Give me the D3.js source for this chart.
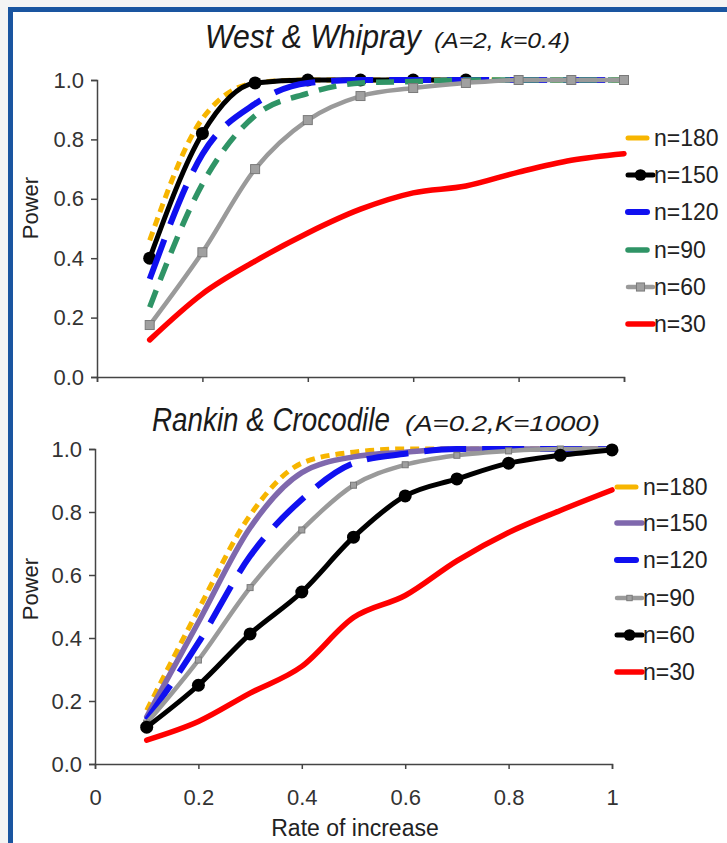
<!DOCTYPE html>
<html>
<head>
<meta charset="utf-8">
<script src="https://cdn.jsdelivr.net/npm/d3@7"></script>
<style>
  html, body { margin: 0; padding: 0; background: #f4f4f4; }
  svg { display: block; }
  text { font-family: "Liberation Sans", Arial, sans-serif; }
</style>
</head>
<body>
<svg id="chart" width="727" height="843"></svg>
<script>
// Rate of increase (x) shared by every series
const rates = [0.1, 0.2, 0.3, 0.4, 0.5, 0.6, 0.7, 0.8, 0.9, 1.0];
const xTicks = [0, 0.2, 0.4, 0.6, 0.8, 1];
const xTickLabels = ["0", "0.2", "0.4", "0.6", "0.8", "1"];
const yTicks = [0, 0.2, 0.4, 0.6, 0.8, 1.0];

// West & Whipray (A=2, k=0.4) power by sample size
const wwN180 = [0.46, 0.87, 0.99, 1.0, 1.0, 1.0, 1.0, 1.0, 1.0, 1.0];
const wwN150 = [0.40, 0.82, 0.99, 1.0, 1.0, 1.0, 1.0];
const wwN120 = [0.33, 0.75, 0.92, 0.99, 1.0, 1.0, 1.0, 1.0, 1.0, 1.0];
const wwN90  = [0.235, 0.65, 0.88, 0.955, 0.99, 0.995, 1.0, 1.0, 1.0, 1.0];
const wwN60  = [0.175, 0.42, 0.70, 0.865, 0.946, 0.973, 0.99, 1.0, 1.0, 1.0];
const wwN30  = [0.125, 0.28, 0.39, 0.485, 0.565, 0.62, 0.643, 0.69, 0.73, 0.752];

// Rankin & Crocodile (A=0.2, K=1000) power by sample size
const rcN180 = [0.17, 0.49, 0.79, 0.955, 0.99, 1.0, 1.0, 1.0, 1.0, 1.0];
const rcN150 = [0.15, 0.45, 0.75, 0.925, 0.975, 0.99, 1.0, 1.0, 1.0, 1.0];
const rcN120 = [0.14, 0.385, 0.66, 0.84, 0.955, 0.985, 1.0, 1.0, 1.0, 1.0];
const rcN90  = [0.13, 0.33, 0.56, 0.743, 0.885, 0.95, 0.98, 0.994, 1.0, 1.0];
const rcN60  = [0.117, 0.25, 0.413, 0.546, 0.72, 0.851, 0.905, 0.955, 0.98, 0.997];
const rcN30  = [0.076, 0.135, 0.225, 0.31, 0.465, 0.535, 0.645, 0.735, 0.805, 0.87];

// line styles per series
const STY = {
  orange: { color: "#f7b500", width: 5, dash: "9,6", cap: "butt" },
  black:  { color: "#000000", width: 5, dash: null, marker: "circle", msize: 6.5 },
  blue:   { color: "#1010f0", width: 6, dash: "42,16", cap: "butt" },
  green:  { color: "#2f9466", width: 5.5, dash: "18,11", cap: "butt" },
  grayBig:{ color: "#9a9a9a", width: 4.5, dash: null, marker: "square", msize: 9 },
  graySm: { color: "#9a9a9a", width: 4.5, dash: null, marker: "square", msize: 6 },
  red:    { color: "#ff0000", width: 5.5, dash: null },
  purple: { color: "#7f68ad", width: 5.5, dash: null }
};

const panels = [
  {
    title: "West & Whipray", sub: "(A=2, k=0.4)",
    titleX: 205, titleW: 216, subX: 434, subW: 136, titleY: 48,
    x0: 97, x1: 624, y0: 377, y1: 80, showXLabels: false,
    legendX: 628, legendTextX: 654, legendY: [138, 175, 212, 250, 287, 324], yLabelY: 208,
    series: [
      { name: "n=180", values: wwN180, s: STY.orange },
      { name: "n=150", values: wwN150, s: STY.black },
      { name: "n=120", values: wwN120, s: STY.blue },
      { name: "n=90",  values: wwN90,  s: STY.green },
      { name: "n=60",  values: wwN60,  s: STY.grayBig },
      { name: "n=30",  values: wwN30,  s: STY.red }
    ]
  },
  {
    title: "Rankin & Crocodile", sub: "(A=0.2,K=1000)",
    titleX: 152, titleW: 238, subX: 405, subW: 195, titleY: 431,
    x0: 95, x1: 612, y0: 764, y1: 449, showXLabels: true,
    legendX: 617, legendTextX: 643, legendY: [487, 523, 560, 598, 635, 672], yLabelY: 589,
    series: [
      { name: "n=180", values: rcN180, s: STY.orange },
      { name: "n=150", values: rcN150, s: STY.purple },
      { name: "n=120", values: rcN120, s: STY.blue },
      { name: "n=90",  values: rcN90,  s: STY.graySm },
      { name: "n=60",  values: rcN60,  s: STY.black },
      { name: "n=30",  values: rcN30,  s: STY.red }
    ]
  }
];

const svg = d3.select("#chart");

// white page with the blue frame along the top and left
svg.append("rect").attr("x", 8).attr("y", 7).attr("width", 719).attr("height", 836).attr("fill", "#ffffff");
svg.append("rect").attr("x", 8).attr("y", 7).attr("width", 719).attr("height", 5).attr("fill", "#1a55a0");
svg.append("rect").attr("x", 8).attr("y", 7).attr("width", 5).attr("height", 836).attr("fill", "#1a55a0");

function drawMarker(g, type, cx, cy, size, color) {
  if (type === "circle") {
    g.append("circle").attr("cx", cx).attr("cy", cy).attr("r", size).attr("fill", color);
  } else if (type === "square") {
    g.append("rect").attr("x", cx - size / 2).attr("y", cy - size / 2)
      .attr("width", size).attr("height", size)
      .attr("fill", "#a0a0a0").attr("stroke", "#7a7a7a").attr("stroke-width", 1);
  }
}

// italic text squeezed or stretched horizontally to a given width
function fittedText(g, str, x, y, size, width) {
  const t = g.append("text").attr("x", 0).attr("y", 0)
    .attr("font-size", size).attr("fill", "#1a1a1a").style("font-style", "italic").text(str);
  const natural = t.node().getComputedTextLength();
  t.attr("transform", `translate(${x},${y}) scale(${width / natural},1)`);
  return t;
}

panels.forEach(p => {
  const x = d3.scaleLinear().domain([0, 1]).range([p.x0, p.x1]);
  const y = d3.scaleLinear().domain([0, 1]).range([p.y0, p.y1]);
  const g = svg.append("g");

  // title: italic name plus smaller parameter note
  fittedText(g, p.title, p.titleX, p.titleY, 34, p.titleW);
  fittedText(g, p.sub, p.subX, p.titleY, 22, p.subW);

  // axes
  const yAxis = d3.axisLeft(y).tickValues(yTicks).tickFormat(d3.format(".1f")).tickSize(6).tickPadding(7);
  const gy = g.append("g").attr("transform", `translate(${p.x0},0)`).call(yAxis);
  const xAxis = d3.axisBottom(x).tickValues(xTicks).tickSize(5).tickPadding(20)
    .tickFormat((d, i) => p.showXLabels ? xTickLabels[i] : "");
  const gx = g.append("g").attr("transform", `translate(0,${p.y0})`).call(xAxis);
  [gx, gy].forEach(a => {
    a.select(".domain").attr("stroke", "#444").attr("stroke-width", 1.5);
    a.selectAll(".tick line").attr("stroke", "#444").attr("stroke-width", 1.5);
    a.selectAll(".tick text").attr("font-size", 22).attr("fill", "#333")
      .attr("font-family", "'Liberation Sans', Arial, sans-serif");
  });

  // y label
  g.append("text").attr("transform", `translate(38,${p.yLabelY}) rotate(-90)`)
    .attr("text-anchor", "middle").attr("font-size", 22).attr("fill", "#222").text("Power");

  // series
  const line = d3.line().x(d => x(d[0])).y(d => y(d[1])).curve(d3.curveMonotoneX);
  p.series.forEach(sr => {
    const pts = sr.values.map((v, i) => [rates[i], v]);
    const path = g.append("path").datum(pts).attr("d", line)
      .attr("fill", "none").attr("stroke", sr.s.color).attr("stroke-width", sr.s.width)
      .attr("stroke-linejoin", "round").attr("stroke-linecap", sr.s.cap || "round");
    if (sr.s.dash) path.attr("stroke-dasharray", sr.s.dash);
    if (sr.s.marker) pts.forEach(d => drawMarker(g, sr.s.marker, x(d[0]), y(d[1]), sr.s.msize, sr.s.color));
  });

  // legend
  p.series.forEach((sr, i) => {
    const ly = p.legendY[i];
    const lx0 = p.legendX, lx1 = p.legendTextX - 1;
    g.append("line").attr("x1", lx0).attr("x2", sr.s.dash ? lx1 - 6 : lx1)
      .attr("y1", ly).attr("y2", ly).attr("stroke", sr.s.color).attr("stroke-width", sr.s.width)
      .attr("stroke-linecap", "round");
    if (sr.s.marker) drawMarker(g, sr.s.marker, (lx0 + lx1) / 2, ly, sr.s.msize * 0.9, sr.s.color);
    g.append("text").attr("x", p.legendTextX).attr("y", ly).attr("dy", "0.36em")
      .attr("font-size", 23).attr("fill", "#222").text(sr.name);
  });
});

// x axis title
svg.append("text").attr("x", 355).attr("y", 836).attr("text-anchor", "middle")
  .attr("font-size", 23).attr("fill", "#222").text("Rate of increase");
</script>
</body>
</html>
